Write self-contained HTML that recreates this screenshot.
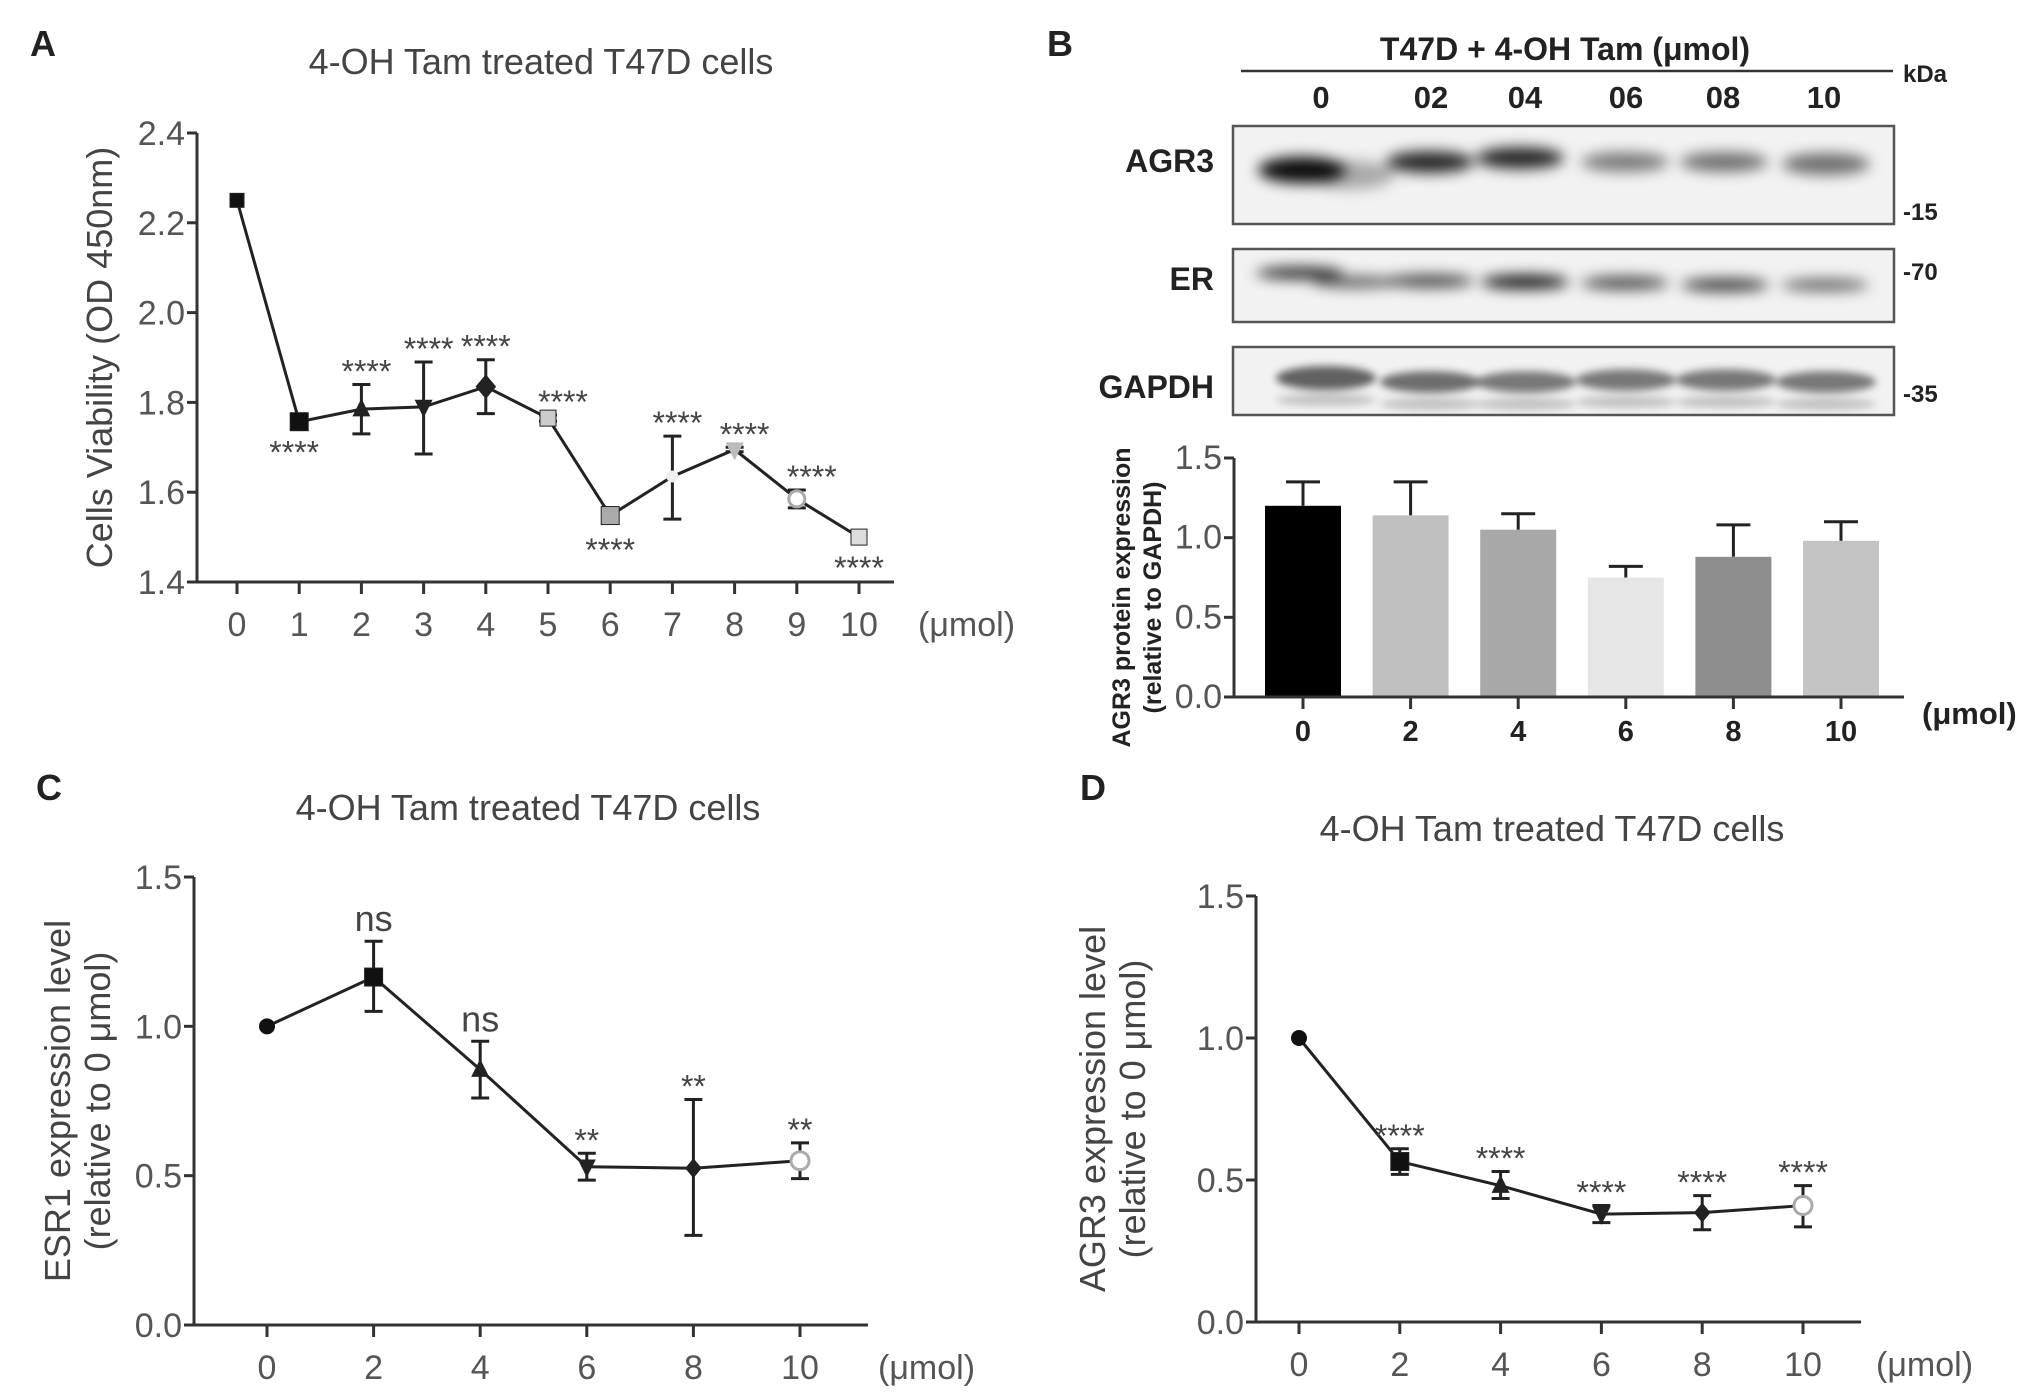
<!DOCTYPE html>
<html><head><meta charset="utf-8"><style>
html,body{margin:0;padding:0;background:#fff}
svg{display:block}
text{font-family:"Liberation Sans",Arial,sans-serif}
.tk{fill:#555;font-size:34px}
.tt{fill:#444;font-size:36px}
.st{fill:#444;font-size:32px}
.bd{font-weight:bold;fill:#222}
</style></head><body>
<svg id="fig" width="2031" height="1393" viewBox="0 0 2031 1393">
<defs>
<filter id="blur" x="-30%" y="-80%" width="160%" height="260%"><feGaussianBlur stdDeviation="7"/></filter>
<filter id="blur2" x="-30%" y="-80%" width="160%" height="260%"><feGaussianBlur stdDeviation="4"/></filter>
</defs>
<g id="gA"></g>
<g id="gB"></g>
<g id="gC"></g>
<g id="gD"></g>
</svg>
<script>
// Panel A data
const aDoses = [0,1,2,3,4,5,6,7,8,9,10];
const aMeans = [2.25,1.757,1.785,1.79,1.835,1.765,1.548,1.635,1.695,1.585,1.5];
const aLow = [2.25,1.757,1.73,1.685,1.775,1.758,1.54,1.54,1.69,1.565,1.5];
const aHigh = [2.25,1.757,1.84,1.89,1.895,1.772,1.556,1.725,1.70,1.605,1.5];
const aSig = ["","****","****","****","****","****","****","****","****","****","****"];
const aSigPos = ["","below","above","above","above","above","below","above","above","above","below"];
const aYTicks = [1.4,1.6,1.8,2.0,2.2,2.4];
// Panel B data
const bDoses = ["0","2","4","6","8","10"];
const bMeans = [1.2,1.14,1.05,0.75,0.88,0.98];
const bErr = [1.35,1.35,1.15,0.82,1.08,1.1];
const bYTicks = [0.0,0.5,1.0,1.5];
const bLanes = ["0","02","04","06","08","10"];
// Panel C data
const cDoses = [0,2,4,6,8,10];
const cMeans = [1.0,1.165,0.855,0.53,0.525,0.55];
const cLow = [1.0,1.05,0.76,0.485,0.3,0.49];
const cHigh = [1.0,1.285,0.95,0.575,0.755,0.61];
const cSig = ["","ns","ns","**","**","**"];
// Panel D data
const dDoses = [0,2,4,6,8,10];
const dMeans = [1.0,0.565,0.48,0.38,0.385,0.41];
const dLow = [1.0,0.52,0.435,0.35,0.325,0.335];
const dHigh = [1.0,0.61,0.53,0.41,0.445,0.48];
const dSig = ["","****","****","****","****","****"];
const cdYTicks = [0.0,0.5,1.0,1.5];

const NS="http://www.w3.org/2000/svg";
function mk(parent,tag,attrs,txt){const e=document.createElementNS(NS,tag);for(const k in attrs)e.setAttribute(k,attrs[k]);if(txt!==undefined)e.textContent=txt;parent.appendChild(e);return e;}

function marker(g,kind,x,y,fill,s){
  let e;
  if(kind==="sq") e=mk(g,"rect",{x:x-s,y:y-s,width:2*s,height:2*s,fill:fill,stroke:"#222","stroke-width":1});
  else if(kind==="up") e=mk(g,"polygon",{points:`${x},${y-s*1.2} ${x-s},${y+s*0.8} ${x+s},${y+s*0.8}`,fill:fill});
  else if(kind==="dn") e=mk(g,"polygon",{points:`${x},${y+s*1.2} ${x-s},${y-s*0.8} ${x+s},${y-s*0.8}`,fill:fill});
  else if(kind==="di") e=mk(g,"polygon",{points:`${x},${y-s*1.2} ${x+s},${y} ${x},${y+s*1.2} ${x-s},${y}`,fill:fill,stroke:"#222","stroke-width":2});
  else if(kind==="oc") e=mk(g,"circle",{cx:x,cy:y,r:s,fill:"#fff",stroke:"#aaa","stroke-width":3});
  else e=mk(g,"circle",{cx:x,cy:y,r:s,fill:fill});
  
  
}

function lineChart(o){
  const g=o.g;
  const X=v=>o.x0+(v-o.xmin)/(o.xmax-o.xmin)*(o.x1-o.x0);
  const Y=v=>o.yb+(v-o.ymin)/(o.ymax-o.ymin)*(o.yt-o.yb);
  let t=mk(g,"text",{x:o.lx,y:o.ly,"font-size":36,"font-weight":"bold",fill:"#222"},o.letter);
  
  
  t=mk(g,"text",{x:o.tx,y:o.ty,"text-anchor":"middle",class:"tt"},"4-OH Tam treated T47D cells");
  
  
  let ax=mk(g,"path",{d:`M${o.ax},${o.yt} V${o.yb} H${o.axEnd}`,stroke:"#333","stroke-width":3,fill:"none"});
  
  
  o.yticks.forEach(v=>{
    mk(g,"line",{x1:o.ax-10,x2:o.ax,y1:Y(v),y2:Y(v),stroke:"#333","stroke-width":3});
    const l=mk(g,"text",{x:o.ax-12,y:Y(v)+12,"text-anchor":"end",class:"tk"},v.toFixed(1));
    
    
  });
  o.xs.forEach(v=>{
    mk(g,"line",{x1:X(v),x2:X(v),y1:o.yb,y2:o.yb+12,stroke:"#333","stroke-width":3});
    const l=mk(g,"text",{x:X(v),y:o.yb+54,"text-anchor":"middle",class:"tk"},String(v));
    
    
  });
  t=mk(g,"text",{x:o.ux,y:o.yb+54,class:"tk"},"(\u03bcmol)");
  
  
  const yl=mk(g,"text",{transform:`translate(${o.ylx},${(o.yt+o.yb)/2}) rotate(-90)`,"text-anchor":"middle",class:"tt","font-size":o.yfs||36});
  
  
  o.ylab.forEach((s,i)=>mk(yl,"tspan",{x:0,dy:i?40:0},s));
  const pts=o.xs.map((v,i)=>`${X(v)},${Y(o.means[i])}`).join(" ");
  const pl=mk(g,"polyline",{points:pts,fill:"none",stroke:"#222","stroke-width":3});
  
  
  o.xs.forEach((v,i)=>{
    if(o.high[i]-o.low[i]>0.001){
      const eb=mk(g,"path",{d:`M${X(v)},${Y(o.low[i])}V${Y(o.high[i])}M${X(v)-9},${Y(o.low[i])}h18M${X(v)-9},${Y(o.high[i])}h18`,stroke:"#222","stroke-width":3,fill:"none"});
      
      
    }
    marker(g,o.mk[i],X(v),Y(o.means[i]),o.mf[i],o.ms[i]);
    if(o.sig[i]){
      const below=o.sigPos&&o.sigPos[i]==="below";
      const yy=below?Y(o.low[i])+42:Y(o.high[i])+(o.sig[i]==="ns"?-10:-2);
      const s=mk(g,"text",{x:X(v)+(o.sigDx?o.sigDx[i]:0),y:yy,"text-anchor":"middle",class:o.sig[i]==="ns"?"tt":"st"},o.sig[i]);
      
      
    }
  });
}

lineChart({g:document.getElementById("gA"),letter:"A",lx:30,ly:56,tx:541,ty:74,
  ax:197,x0:237,x1:859,xmin:0,xmax:10,yt:133,yb:582,ymin:1.4,ymax:2.4,axEnd:894,ux:918,
  ylx:112,ylab:["Cells Viability (OD 450nm)"],yfs:38,yticks:aYTicks,xs:aDoses,means:aMeans,low:aLow,high:aHigh,
  sig:aSig,sigPos:aSigPos,sigDx:[0,-5,5,5,0,15,0,5,10,15,0],
  mk:["sq","sq","up","dn","di","sq","sq","ci","dn","oc","sq"],
  mf:["#111","#111","#222","#222","#222","#ccc","#aaa","#eee","#bbb","#fff","#ddd"],
  ms:[7,9,9,9,9,8,9,6,9,8,8]});

lineChart({g:document.getElementById("gC"),letter:"C",lx:36,ly:800,tx:528,ty:820,
  ax:194,x0:267,x1:800,xmin:0,xmax:10,yt:877,yb:1325,ymin:0,ymax:1.5,axEnd:868,ux:878,
  ylx:70,ylab:["ESR1 expression level","(relative to 0 \u03bcmol)"],yticks:cdYTicks,xs:cDoses,means:cMeans,low:cLow,high:cHigh,
  sig:cSig,mk:["ci","sq","up","dn","di","oc"],mf:["#111","#111","#222","#222","#222","#fff"],ms:[8,9,9,9,7,9]});

lineChart({g:document.getElementById("gD"),letter:"D",lx:1080,ly:800,tx:1552,ty:841,
  ax:1256,x0:1299,x1:1803,xmin:0,xmax:10,yt:896,yb:1322,ymin:0,ymax:1.5,axEnd:1861,ux:1876,
  ylx:1105,ylab:["AGR3 expression level","(relative to 0 \u03bcmol)"],yticks:cdYTicks,xs:dDoses,means:dMeans,low:dLow,high:dHigh,
  sig:dSig,mk:["ci","sq","up","dn","di","oc"],mf:["#111","#111","#222","#222","#222","#fff"],ms:[8,9,9,9,7,9]});

// Panel B
(function(){
  const g=document.getElementById("gB");
  let t=mk(g,"text",{x:1047,y:56,"font-size":36,"font-weight":"bold",fill:"#222"},"B");
  
  
  t=mk(g,"text",{x:1565,y:60,"text-anchor":"middle","font-size":32,class:"bd"},"T47D + 4-OH Tam (\u03bcmol)");
  
  
  mk(g,"line",{x1:1241,x2:1893,y1:71,y2:71,stroke:"#333","stroke-width":2.5});
  t=mk(g,"text",{x:1903,y:82,"font-size":24,class:"bd"},"kDa");
  
  
  const laneX=[1321,1431,1525,1626,1723,1824];
  bLanes.forEach((s,i)=>{
    const l=mk(g,"text",{x:laneX[i],y:108,"text-anchor":"middle","font-size":31,class:"bd"},s);
    
    
  });
  const blots=[
    {n:"AGR3",y0:126,y1:224,mw:"-15",my:210,lab:160,bands:[[1302,170,0.95,22],[1350,175,0.3,24],[1430,162,0.85,18],[1520,158,0.85,18],[1625,162,0.5,16],[1724,162,0.55,16],[1826,164,0.55,18]]},
    {n:"ER",y0:249,y1:322,mw:"-70",my:270,lab:278,bands:[[1300,273,0.85,10],[1355,282,0.6,10],[1430,281,0.7,11],[1525,282,0.9,12],[1625,283,0.7,11],[1725,285,0.75,11],[1825,285,0.6,10]]},
    {n:"GAPDH",y0:347,y1:415,mw:"-35",my:392,lab:386,bands:[[1326,378,0.6,20],[1430,382,0.55,18],[1526,382,0.5,18],[1626,380,0.5,18],[1726,380,0.5,18],[1826,382,0.5,18]]}
  ];
  blots.forEach(b=>{
    const bg=mk(g,"g",{});
    
    
    mk(bg,"rect",{x:1233,y:b.y0,width:661,height:b.y1-b.y0,fill:"#f2f2f2"});
    const bands=mk(bg,"g",{filter:b.n==="GAPDH"?"url(#blur2)":"url(#blur)"});
    b.bands.forEach(p=>{
      const w=b.n==="GAPDH"?50:44;
      mk(bands,"ellipse",{cx:p[0],cy:p[1],rx:w,ry:p[3]*0.6,fill:"#000","fill-opacity":p[2]});
      if(b.n==="GAPDH") mk(bands,"ellipse",{cx:p[0],cy:p[1]+22,rx:w,ry:6,fill:"#000","fill-opacity":0.2});
    });
    mk(bg,"rect",{x:1233,y:b.y0,width:661,height:b.y1-b.y0,fill:"none",stroke:"#555","stroke-width":2.5});
    const l=mk(g,"text",{x:1214,y:b.lab+12,"text-anchor":"end","font-size":32,class:"bd"},b.n);
    
    
    const m=mk(g,"text",{x:1903,y:b.my+10,"font-size":24,class:"bd"},b.mw);
    
    
  });
  // bar chart
  const ax=1234,yt=458,yb=697,xEnd=1904;
  const Y=v=>yb+(v-0)/(1.5-0)*(yt-yb);
  const X=i=>1303+i*107.6;
  const cols=["#000","#c0c0c0","#a8a8a8","#e6e6e6","#8e8e8e","#c4c4c4"];
  bDoses.forEach((d,i)=>{
    const e=mk(g,"path",{d:`M${X(i)},${Y(bMeans[i])}V${Y(bErr[i])}M${X(i)-17},${Y(bErr[i])}h34`,stroke:"#222","stroke-width":3,fill:"none"});
    
    
    const r=mk(g,"rect",{x:X(i)-38,y:Y(bMeans[i]),width:76,height:yb-Y(bMeans[i]),fill:cols[i]});
    
    
    mk(g,"line",{x1:X(i),x2:X(i),y1:yb,y2:yb+12,stroke:"#333","stroke-width":3});
    const l=mk(g,"text",{x:X(i),y:yb+44,"text-anchor":"middle","font-size":29,class:"bd"},d);
    
    
  });
  const a=mk(g,"path",{d:`M${ax},${yt} V${yb} H${xEnd}`,stroke:"#333","stroke-width":3,fill:"none"});
  
  
  bYTicks.forEach(v=>{
    mk(g,"line",{x1:ax-10,x2:ax,y1:Y(v),y2:Y(v),stroke:"#333","stroke-width":3});
    const l=mk(g,"text",{x:ax-12,y:Y(v)+11,"text-anchor":"end",class:"tk","font-size":31},v.toFixed(1));
    
    
  });
  t=mk(g,"text",{x:1922,y:724,"font-size":31,class:"bd"},"(\u03bcmol)");
  
  
  const yl=mk(g,"text",{transform:`translate(1130,${(yt+yb)/2+20}) rotate(-90)`,"text-anchor":"middle","font-size":25,class:"bd"});
  
  
  mk(yl,"tspan",{x:0,dy:0},"AGR3 protein expression");
  mk(yl,"tspan",{x:0,dy:31},"(relative to GAPDH)");
})();
</script>
</body></html>
